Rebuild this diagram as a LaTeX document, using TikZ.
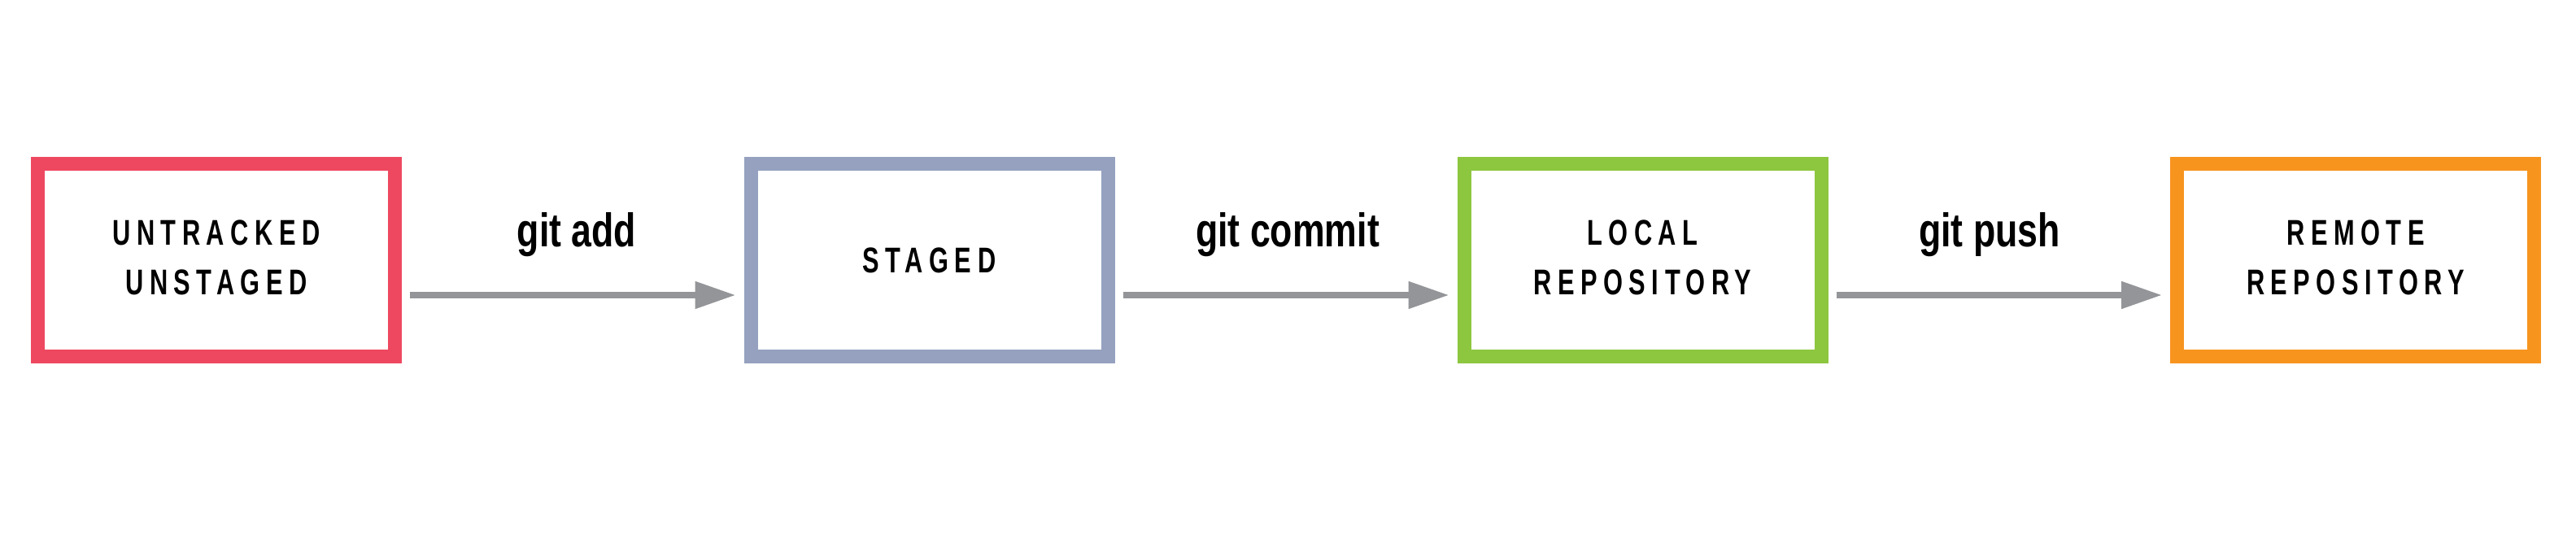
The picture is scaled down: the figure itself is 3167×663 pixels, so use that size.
\documentclass[tikz,border=0pt]{standalone}
\usepackage{fontspec}
\usetikzlibrary{arrows.meta}
\newfontfamily\boxfont[FakeStretch=0.7,LetterSpace=17]{Liberation Sans}
\newfontfamily\labelfont[FakeStretch=0.77]{Liberation Sans}
\definecolor{cred}{RGB}{238,72,96}
\definecolor{cblue}{RGB}{149,161,191}
\definecolor{cgreen}{RGB}{141,198,63}
\definecolor{corange}{RGB}{247,148,30}
\definecolor{cgray}{RGB}{147,149,152}
\begin{document}
\begin{tikzpicture}[x=1pt,y=1pt,
  statebox/.style={draw=#1,line width=17pt,fill=white,minimum width=439pt,minimum height=237pt,
    inner sep=0pt,align=center,font=\boxfont\bfseries\fontsize{44}{61}\selectfont},
  twoline/.style={text depth=6pt},
  flow/.style={draw=cgray,line width=8pt,-{Triangle[length=50pt,width=32pt]}},
  cmd/.style={anchor=base,font=\labelfont\bfseries\fontsize{58}{70}\selectfont}]
\useasboundingbox (0,0) rectangle (3167,663);
\node[statebox=cred,twoline]    (u) at (266,343)    {UNTRACKED\\UNSTAGED};
\node[statebox=cblue]           (s) at (1142.5,343) {STAGED};
\node[statebox=cgreen,twoline]  (l) at (2019.5,343) {LOCAL\\REPOSITORY};
\node[statebox=corange,twoline] (r) at (2896,343)   {REMOTE\\REPOSITORY};
\coordinate (a1s) at ([xshift=10pt]u.east |- 0,300);
\coordinate (a1e) at ([xshift=-10pt]s.west |- 0,300);
\coordinate (a2s) at ([xshift=10pt]s.east |- 0,300);
\coordinate (a2e) at ([xshift=-10pt]l.west |- 0,300);
\coordinate (a3s) at ([xshift=10pt]l.east |- 0,300);
\coordinate (a3e) at ([xshift=-10pt]r.west |- 0,300);
\draw[flow] (a1s) -- (a1e);
\draw[flow] (a2s) -- (a2e);
\draw[flow] (a3s) -- (a3e);
\node[cmd] (c1) at (709,359)  {git add};
\node[cmd] (c2) at (1583,359) {git commit};
\node[cmd] (c3) at (2446,359) {git push};
\end{tikzpicture}
\end{document}
